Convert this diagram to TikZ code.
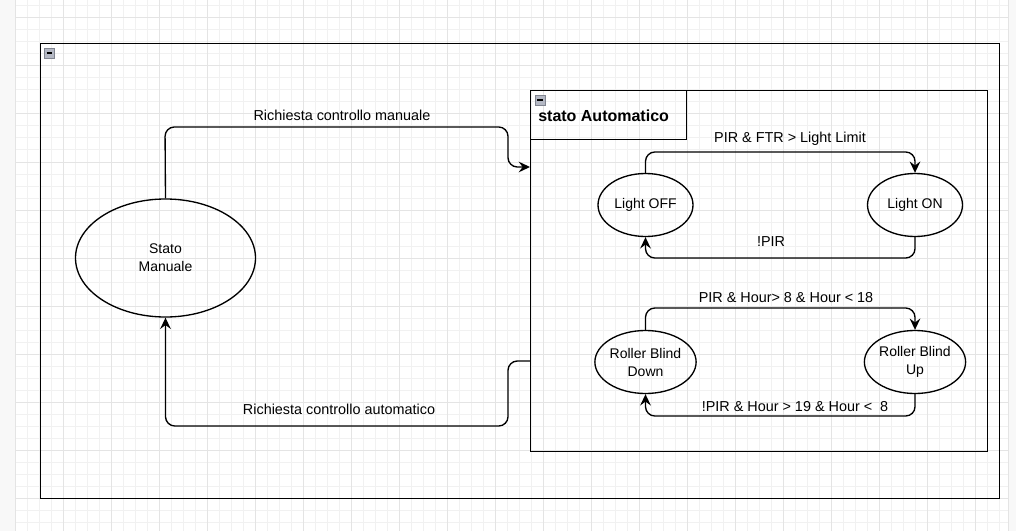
\documentclass[tikz,border=0pt]{standalone}
\usepackage{fontspec}
\setmainfont{Liberation Sans}
\usetikzlibrary{shapes.geometric,arrows.meta}
\definecolor{gridminor}{HTML}{F1F1F1}
\definecolor{gridmajor}{HTML}{E4E4E4}
\definecolor{stripgray}{HTML}{F8F8F8}
\definecolor{iconfill}{HTML}{B4B8C4}
\definecolor{iconedge}{HTML}{80848F}
\begin{document}
\begin{tikzpicture}[x=0.75pt,y=-0.75pt,
  st/.style={ellipse,draw,line width=1pt,inner sep=0pt,minimum width=71.25pt,minimum height=47.25pt,font=\fontsize{10.5}{13.5}\selectfont,align=center},
  conn/.style={line width=1pt,rounded corners=7pt,-{Stealth[length=8.5pt,width=8pt,inset=3pt]}},
  lbl/.style={font=\fontsize{10.8}{13}\selectfont,inner sep=0pt},
  boxline/.style={line width=1pt},
  collapse/.style={draw=iconedge,fill=iconfill,line width=0.5pt,minimum size=7.5pt,inner sep=0pt}
]
\useasboundingbox (0,0) rectangle (1016,531);
\fill[white] (0,0) rectangle (1016,531);
% grid
\foreach \i in {0,...,82} {
  \pgfmathsetmacro\xx{15+12*\i}
  \draw[gridminor,line width=0.75pt] (\xx,0) -- (\xx,531);
}
\foreach \i in {-1,...,43} {
  \pgfmathsetmacro\yy{18+12*\i}
  \draw[gridminor,line width=0.75pt] (15,\yy) -- (1008,\yy);
}
\foreach \i in {0,...,20} {
  \pgfmathsetmacro\xx{15+48*\i}
  \draw[gridmajor,line width=0.75pt] (\xx,0) -- (\xx,531);
}
\foreach \i in {0,...,10} {
  \pgfmathsetmacro\yy{18+48*\i}
  \draw[gridmajor,line width=0.75pt] (15,\yy) -- (1008,\yy);
}
\fill[stripgray] (0,0) rectangle (15,531);
\fill[stripgray] (1008,0) rectangle (1016,531);
\draw[gridmajor,line width=0.75pt] (15,0) -- (15,531);
\draw[gridmajor,line width=0.75pt] (1008,0) -- (1008,531);

% outer container
\node[draw,boxline,minimum width=719.25pt,minimum height=341.25pt,inner sep=0pt,anchor=north west] (outer) at (40,43) {};
\node[collapse] (outericon) at (49.5,53) {};
\draw[line width=0.8pt] ([xshift=-2.2pt]outericon.center) -- ([xshift=2.2pt]outericon.center);

% inner container
\node[draw,boxline,minimum width=342.75pt,minimum height=270.75pt,inner sep=0pt,anchor=north west] (auto) at (530,90) {};
\node[draw,boxline,minimum width=117pt,minimum height=36.75pt,inner sep=0pt,anchor=north west] (autohead) at (530,90) {};
\node[collapse] (autoicon) at (540,100) {};
\draw[line width=0.8pt] ([xshift=-2.2pt]autoicon.center) -- ([xshift=2.2pt]autoicon.center);
\node[font=\fontsize{12}{14}\bfseries,inner sep=0pt,anchor=west] (autotitle) at (538,116) {stato Automatico};

% states
\node[st,minimum width=135pt,minimum height=88.5pt] (sm) at (165.5,258) {Stato\\Manuale};
\node[st] (loff) at (645.5,205) {Light OFF};
\node[st] (lon) at (915,205) {Light ON};
\node[st] (rbd) at (645.5,362) {Roller Blind\\Down};
\node[st] (rbu) at (915,362) {Roller Blind\\Up};

% connectors
\coordinate (inA) at (530,167);
\coordinate (outA) at (530,361);
\draw[conn] (sm.north) -- (165,127) -- (508,127) -- (508,167) -- (inA);
\draw[conn] (outA) -- (508,361) -- (508,426) -- (165.5,426) -- (sm.south);
\draw[conn] (loff.north) -- (645.5,152) -- (915,152) -- (lon.north);
\draw[conn] (lon.south) -- (915,258) -- (645.5,258) -- (loff.south);
\draw[conn] (rbd.north) -- (645.5,308) -- (915,308) -- (rbu.north);
\draw[conn] (rbu.south) -- (915,416) -- (645.5,416) -- (rbd.south);

% labels
\node[lbl] (l1) at (342,115) {Richiesta controllo manuale};
\node[lbl] (l2) at (339,409) {Richiesta controllo automatico};
\node[lbl] (l3) at (790,139) {PIR \& FTR > Light Limit};
\node[lbl] (l4) at (771,242) {!PIR};
\node[lbl] (l5) at (786,298) {PIR \& Hour> 8 \& Hour < 18};
\node[lbl] (l6) at (795,407) {!PIR \& Hour > 19 \& Hour <\ \ 8};
\end{tikzpicture}
\end{document}
